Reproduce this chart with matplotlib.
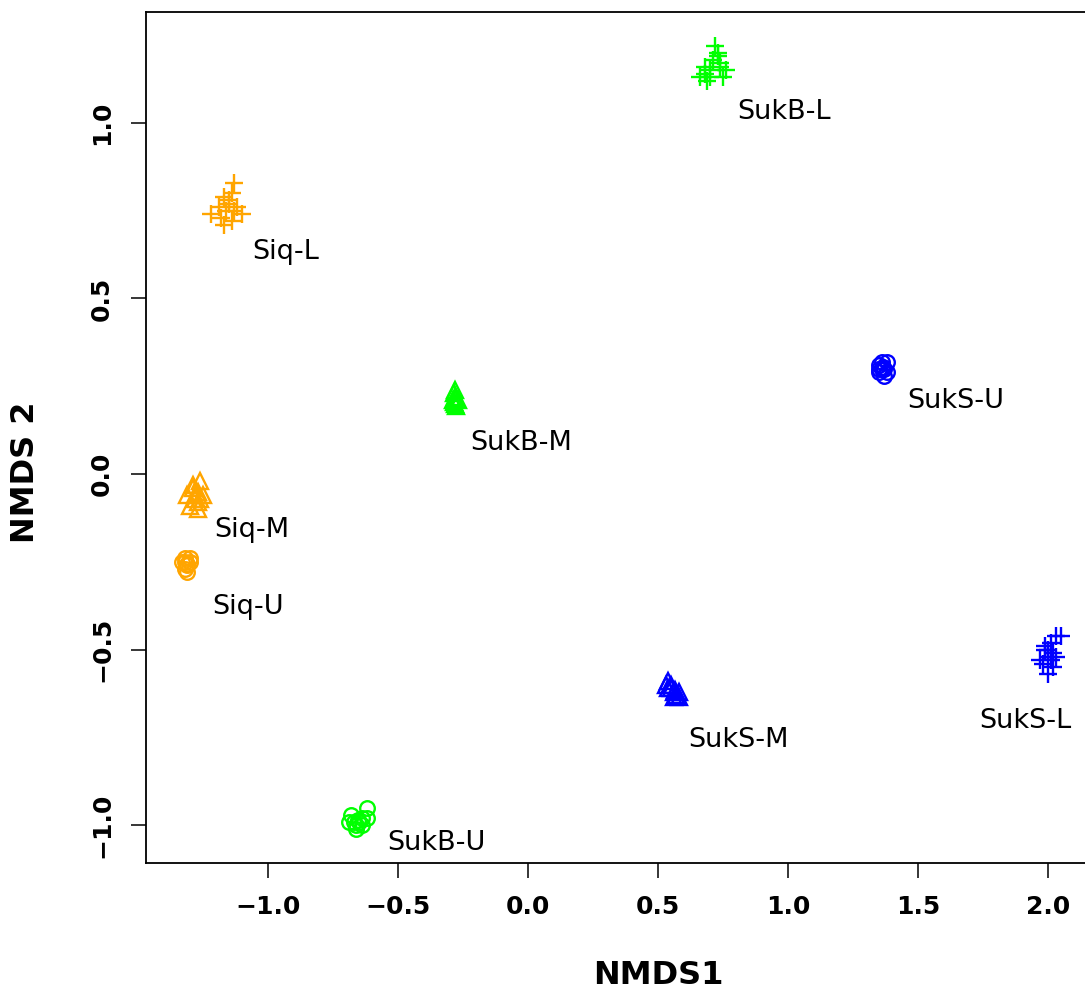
import numpy as np
import matplotlib
matplotlib.use('Agg')
import matplotlib.pyplot as plt

plt.rcParams['font.family'] = ['DejaVu Sans']

# NMDS scores, one group per site/layer
siq_l_x = [-1.22, -1.18, -1.16, -1.15, -1.14, -1.13, -1.12, -1.10, -1.17, -1.15, -1.13, -1.17, -1.19, -1.14]
siq_l_y = [0.74, 0.73, 0.75, 0.78, 0.80, 0.83, 0.76, 0.74, 0.71, 0.77, 0.75, 0.79, 0.76, 0.72]
siq_m_x = [-1.26, -1.29, -1.31, -1.27, -1.28, -1.30, -1.27, -1.25, -1.29, -1.27, -1.28, -1.26]
siq_m_y = [-0.02, -0.04, -0.06, -0.05, -0.07, -0.09, -0.10, -0.06, -0.03, -0.08, -0.06, -0.07]
siq_u_x = [-1.32, -1.30, -1.33, -1.31, -1.32, -1.31, -1.30, -1.32, -1.31]
siq_u_y = [-0.24, -0.24, -0.25, -0.26, -0.27, -0.28, -0.25, -0.25, -0.255]

sukb_l_x = [0.66, 0.68, 0.69, 0.70, 0.72, 0.71, 0.73, 0.74, 0.76, 0.75, 0.73, 0.70, 0.68, 0.74]
sukb_l_y = [1.13, 1.14, 1.12, 1.15, 1.22, 1.18, 1.19, 1.16, 1.15, 1.13, 1.20, 1.13, 1.16, 1.17]
sukb_m_x = [-0.28, -0.285, -0.28, -0.29, -0.27, -0.28, -0.275, -0.285, -0.28]
sukb_m_y = [0.24, 0.23, 0.22, 0.21, 0.21, 0.20, 0.195, 0.205, 0.215]
sukb_u_x = [-0.68, -0.67, -0.66, -0.65, -0.64, -0.62, -0.62, -0.66, -0.69, -0.64, -0.655]
sukb_u_y = [-0.97, -0.99, -1.00, -0.99, -0.98, -0.95, -0.98, -1.01, -0.99, -1.00, -0.985]

suks_l_x = [1.97, 1.99, 2.00, 2.01, 2.02, 2.03, 2.05, 1.98, 2.00, 2.02, 1.99, 2.01, 2.00, 2.03]
suks_l_y = [-0.53, -0.50, -0.52, -0.48, -0.55, -0.46, -0.46, -0.54, -0.57, -0.51, -0.49, -0.53, -0.50, -0.52]
suks_m_x = [0.53, 0.54, 0.55, 0.56, 0.57, 0.58, 0.55, 0.56, 0.58, 0.54, 0.565]
suks_m_y = [-0.60, -0.59, -0.61, -0.62, -0.63, -0.62, -0.60, -0.635, -0.635, -0.61, -0.615]
suks_u_x = [1.35, 1.36, 1.38, 1.37, 1.35, 1.36, 1.38, 1.37, 1.35, 1.365]
suks_u_y = [0.31, 0.32, 0.32, 0.30, 0.29, 0.30, 0.29, 0.28, 0.30, 0.305]

group_names = ['Siq-L', 'Siq-M', 'Siq-U', 'SukB-L', 'SukB-M', 'SukB-U',
               'SukS-L', 'SukS-M', 'SukS-U']
group_x = [siq_l_x, siq_m_x, siq_u_x, sukb_l_x, sukb_m_x, sukb_u_x, suks_l_x, suks_m_x, suks_u_x]
group_y = [siq_l_y, siq_m_y, siq_u_y, sukb_l_y, sukb_m_y, sukb_u_y, suks_l_y, suks_m_y, suks_u_y]

# where the group names sit
label_x = [-1.062, -1.208, -1.215, 0.804, -0.223, -0.542, 1.735, 0.615, 1.458]
label_y = [0.632, -0.160, -0.379, 1.031, 0.088, -1.051, -0.704, -0.758, 0.208]

site_colors = {'Siq': '#FFA500', 'SukB': '#00FF00', 'SukS': '#0000FF'}
layer_style = {'L': ('+', 13.5), 'M': ('^', 11), 'U': ('o', 10.5)}

fig = plt.figure(figsize=(10.85, 9.9), dpi=100)
ax = fig.add_axes([146 / 1085, 127 / 990, 954 / 1085, 851 / 990])

for name, xs, ys in zip(group_names, group_x, group_y):
    site, layer = name.split('-')
    marker, ms = layer_style[layer]
    ax.plot(xs, ys, linestyle='none', marker=marker, markersize=ms,
            markerfacecolor='none', markeredgecolor=site_colors[site],
            markeredgewidth=1.7)

for name, lx, ly in zip(group_names, label_x, label_y):
    ax.text(lx, ly, name, fontsize=19.5, ha='left', va='center', color='black')

ax.set_xlim(-1.469, 2.2)
ax.set_ylim(-1.108, 1.316)
ax.set_xticks([-1.0, -0.5, 0.0, 0.5, 1.0, 1.5, 2.0])
ax.set_yticks([-1.0, -0.5, 0.0, 0.5, 1.0])
ax.tick_params(direction='out', length=11, width=1.1, labelsize=18, pad=12)
for lab in ax.get_xticklabels():
    lab.set_fontweight('bold')
for lab in ax.get_yticklabels():
    lab.set_fontweight('bold')
    lab.set_rotation(90)
    lab.set_va('center')
for sp in ax.spines.values():
    sp.set_linewidth(1.3)

fig.text(658 / 1085, (990 - 975) / 990, 'NMDS1', fontsize=23, fontweight='bold',
         ha='center', va='center')
fig.text(26 / 1085, (990 - 472) / 990, 'NMDS 2', fontsize=23, fontweight='bold',
         ha='center', va='center', rotation=90)

fig.savefig('out.png', dpi=100)
